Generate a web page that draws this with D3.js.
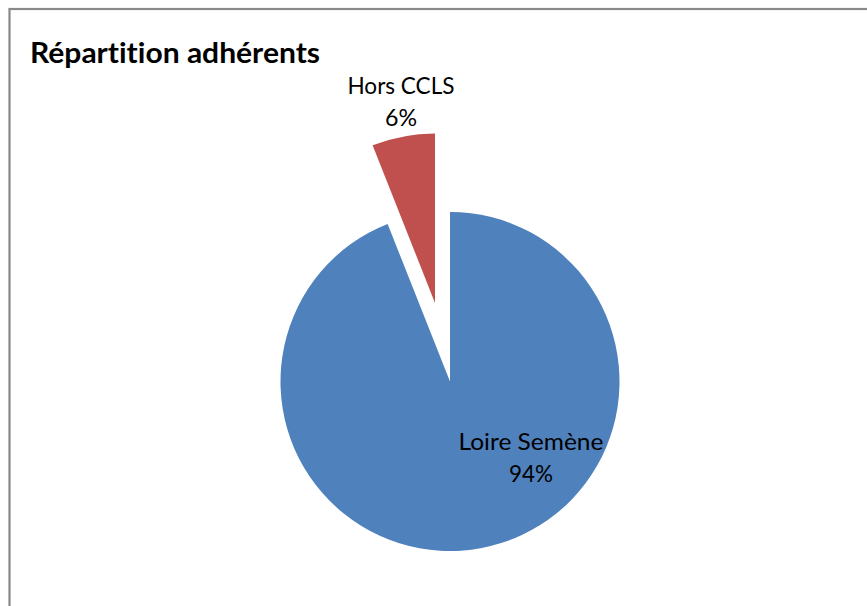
<!DOCTYPE html>
<html><head><meta charset="utf-8">
<script src="https://cdn.jsdelivr.net/npm/d3@7"></script>
<style>html,body{margin:0;padding:0;background:#fff;}svg{display:block;}text{font-variant-ligatures:none;font-feature-settings:"liga" 0;}</style>
</head><body>
<svg id="c" width="867" height="606"></svg>
<script>
const categories = ["Loire Semène", "Hors CCLS"];
const values = [94, 6];
const percentLabels = ["94%", "6%"];
const colors = ["#4F81BD", "#C0504D"];
const title = "Répartition adhérents";

const svg = d3.select("#c");
svg.append("rect").attr("x", 9.5).attr("y", 9).attr("width", 900).attr("height", 700)
  .attr("fill", "#fff").attr("stroke", "#898989").attr("stroke-width", 2.2);

const fontFam = "Lato, 'Open Sans', 'Liberation Sans', sans-serif";

function fitText(t, target) {
  const w = t.node().getComputedTextLength();
  if (w > 0) t.attr("textLength", target).attr("lengthAdjust", "spacingAndGlyphs");
}

const tt = svg.append("text").attr("x", 30).attr("y", 63)
  .attr("font-family", fontFam).attr("font-weight", "bold").attr("font-size", 28.5)
  .attr("fill", "#000").text(title);
fitText(tt, 290);

const cx = 450, cy = 381.5, r = 169.5, explode = 80;
const pie = d3.pie().sort(null).value(d => d)
  .startAngle(0).endAngle(2 * Math.PI);
const arcs = pie(values);
const arc = d3.arc().innerRadius(0).outerRadius(r);
const g = svg.append("g").attr("transform", `translate(${cx},${cy})`);
g.selectAll("path").data(arcs).join("path")
  .attr("d", arc)
  .attr("fill", (d, i) => colors[i])
  .attr("transform", (d, i) => {
    if (i !== 1) return null;
    const a = (d.startAngle + d.endAngle) / 2;
    return `translate(${explode * Math.sin(a)},${-explode * Math.cos(a)})`;
  });

const labelPos = [[531, 450, 145, 44], [401, 94, 107, 32]];
labelPos.forEach((p, i) => {
  const t1 = svg.append("text").attr("x", p[0]).attr("y", p[1]).attr("text-anchor", "middle")
    .attr("font-family", fontFam).attr("font-size", 22.5).attr("fill", "#000").text(categories[i]);
  fitText(t1, p[2]);
  const t2 = svg.append("text").attr("x", p[0]).attr("y", p[1] + 32).attr("text-anchor", "middle")
    .attr("font-family", fontFam).attr("font-size", 22.5).attr("fill", "#000").text(percentLabels[i]);
  fitText(t2, p[3]);
});
</script>
</body></html>
